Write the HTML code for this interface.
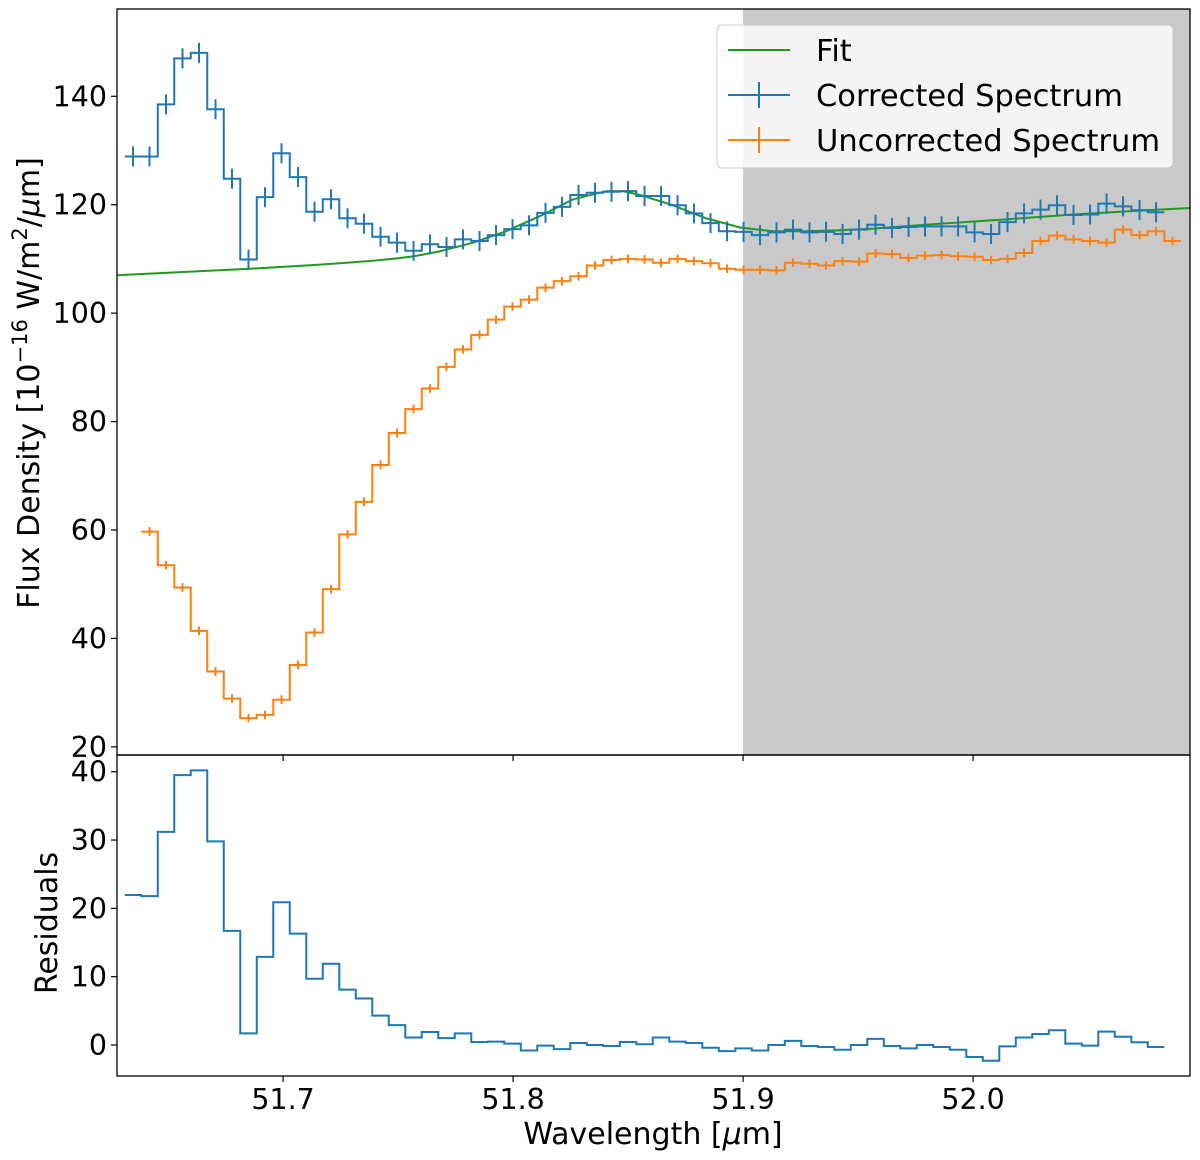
<!DOCTYPE html>
<html><head><meta charset="utf-8"><style>
html,body{margin:0;padding:0;background:#fff;}
svg{display:block;font-family:"DejaVu Sans","Liberation Sans",sans-serif;}
</style></head><body>
<svg id="chart" width="1200" height="1160" viewBox="0 0 1200 1160" xmlns="http://www.w3.org/2000/svg">
<rect x="0" y="0" width="1200" height="1160" fill="#fff"/>
<g id="topPanel"></g>
<g id="botPanel"></g>
<text transform="translate(39,383) rotate(-90)" text-anchor="middle" font-size="30">Flux Density [10<tspan dy="-12" font-size="21">−16</tspan><tspan dy="12"> W/m</tspan><tspan dy="-12" font-size="21">2</tspan><tspan dy="12">/</tspan><tspan font-style="italic">μ</tspan>m]</text>
<text transform="translate(57,923) rotate(-90)" text-anchor="middle" font-size="30">Residuals</text>
<text x="653" y="1144" text-anchor="middle" font-size="30">Wavelength [<tspan font-style="italic">μ</tspan>m]</text>
<g>
<rect x="717" y="25" width="456" height="143" rx="5" fill="#fff" fill-opacity="0.8" stroke="#cccccc" stroke-width="1"/>
<line x1="728" y1="50" x2="790" y2="50" stroke="#1f9a1f" stroke-width="2"/>
<text x="816" y="61" font-size="30.5">Fit</text>
<line x1="728" y1="95" x2="790" y2="95" stroke="#1f77b4" stroke-width="2"/>
<line x1="759" y1="82" x2="759" y2="108" stroke="#1f77b4" stroke-width="2"/>
<text x="816" y="106" font-size="30.5">Corrected Spectrum</text>
<line x1="728" y1="140" x2="790" y2="140" stroke="#ff7f0e" stroke-width="2"/>
<line x1="759" y1="127" x2="759" y2="153" stroke="#ff7f0e" stroke-width="2"/>
<text x="816" y="151" font-size="30.5">Uncorrected Spectrum</text>
</g>
</svg>
<script>
// ---- data ----
const wlStart = 51.63476;
const wlStep = 0.0071739;
const correctedFlux = [128.9,128.9,138.5,147.0,148.0,137.6,124.8,109.9,121.4,129.5,125.1,118.7,121.0,117.5,116.5,114.1,113.0,111.5,112.7,112.2,113.6,113.3,114.4,115.5,116.2,118.5,119.6,121.8,122.2,122.4,122.5,121.6,121.6,119.9,118.4,116.6,115.1,115.0,114.4,114.9,115.4,114.9,115.0,114.6,115.4,116.3,115.7,115.9,116.0,116.0,116.0,114.9,114.6,116.8,118.4,119.1,119.9,118.1,118.2,120.2,119.7,119.0,118.6];
const uncorrectedStart = 1;
const uncorrectedFlux = [59.7,53.5,49.4,41.4,33.9,28.9,25.3,25.9,28.7,35.1,41.1,49.1,59.2,65.2,72.0,77.9,82.3,86.1,90.1,93.3,96.0,98.8,101.2,102.5,104.7,105.9,106.8,108.8,109.8,110.0,109.9,109.3,110.0,109.6,109.2,108.2,108.0,108.0,107.9,109.3,109.1,108.8,109.6,109.5,111.0,110.9,110.2,110.6,110.7,110.5,110.4,109.8,110.0,111.1,113.3,114.3,113.6,113.3,113.0,115.4,114.4,115.1,113.3];
const residuals = [21.96,21.8,31.2,39.5,40.2,29.8,16.7,1.7,12.9,20.9,16.3,9.7,11.9,8.1,6.8,4.3,2.9,1.1,1.9,1.0,1.7,0.44,0.5,0.2,-0.8,-0.1,-0.6,0.3,0,-0.15,0.44,0.1,1.1,0.5,0.3,-0.4,-0.9,-0.5,-0.8,0,0.6,-0.15,-0.3,-0.7,0,0.9,-0.15,-0.5,0,-0.3,-0.7,-1.75,-2.3,-0.2,1.1,1.6,2.15,0.2,-0.1,1.95,1.2,0.4,-0.3];
const fitWl = [51.6278,51.6565,51.6856,51.7100,51.7248,51.7400,51.7495,51.7569,51.7682,51.7826,51.7969,51.8117,51.8261,51.8404,51.8478,51.8552,51.8695,51.8839,51.8987,51.9130,51.9274,51.9422,51.9565,51.9857,52.0143,52.0435,52.0726,52.0943];
const fitFlux = [107.0,107.6,108.2,108.8,109.2,109.7,110.1,110.5,111.4,113.0,115.1,117.9,121.0,122.5,122.5,121.8,119.9,117.5,115.8,115.1,115.1,115.3,115.6,116.5,117.3,118.2,118.9,119.4];
const correctedErr = 1.85;
const uncorrectedErr = 0.8;
const shadeStart = 51.9;
const xTicks = [51.7,51.8,51.9,52.0];
const xTickLabels = ["51.7","51.8","51.9","52.0"];
const yTicksTop = [20,40,60,80,100,120,140];
const yTicksBot = [0,10,20,30,40];
const wavelengths = [];
for (let i = 0; i < correctedFlux.length + 1; i++) wavelengths.push(wlStart + wlStep * i);

// ---- axes ----
const NS = "http://www.w3.org/2000/svg";
const L = 117, R = 1190;
const xMin = 51.6278, xMax = 52.0943;
const X = v => L + (v - xMin) / (xMax - xMin) * (R - L);
const T0 = 9, T1 = 755, topMin = 18.5, topMax = 156.1;
const Yt = v => T1 - (v - topMin) / (topMax - topMin) * (T1 - T0);
const B0 = 755, B1 = 1076, botMin = -4.54, botMax = 42.45;
const Yb = v => B1 - (v - botMin) / (botMax - botMin) * (B1 - B0);
const hw = (X(wlStart + wlStep) - X(wlStart)) / 2;

function mk(tag, attrs, parent) {
  const e = document.createElementNS(NS, tag);
  for (const k in attrs) e.setAttribute(k, attrs[k]);
  parent.appendChild(e);
  return e;
}
const topG = document.getElementById('topPanel');
const botG = document.getElementById('botPanel');

const sh = mk('rect', {x: X(shadeStart), y: T0, width: R - X(shadeStart), height: T1 - T0, fill: '#c9c9c9'}, topG);



function stepPath(vals, startIdx, Y) {
  let d = '';
  vals.forEach((v, j) => {
    const cx = X(wavelengths[startIdx + j]);
    const y = Y(v);
    d += (j === 0 ? 'M' : 'L') + (cx - hw).toFixed(2) + ',' + y.toFixed(2) + 'L' + (cx + hw).toFixed(2) + ',' + y.toFixed(2);
  });
  return d;
}

let fd = '';
fitWl.forEach((w, i) => { fd += (i ? 'L' : 'M') + X(w).toFixed(2) + ',' + Yt(fitFlux[i]).toFixed(2); });
const fitLine = mk('path', {d: fd, fill: 'none', stroke: '#1f9a1f', 'stroke-width': 2, 'stroke-linejoin': 'round'}, topG);



const ou = mk('path', {d: stepPath(uncorrectedFlux, uncorrectedStart, Yt), fill: 'none', stroke: '#ff7f0e', 'stroke-width': 2}, topG);


uncorrectedFlux.forEach((v, j) => {
  const cx = X(wavelengths[uncorrectedStart + j]);
  const e = mk('line', {x1: cx, x2: cx, y1: Yt(v + uncorrectedErr), y2: Yt(v - uncorrectedErr), stroke: '#ff7f0e', 'stroke-width': 2}, topG);
  
  
});

const cu = mk('path', {d: stepPath(correctedFlux, 0, Yt), fill: 'none', stroke: '#1f77b4', 'stroke-width': 2}, topG);


correctedFlux.forEach((v, j) => {
  const cx = X(wavelengths[j]);
  const e = mk('line', {x1: cx, x2: cx, y1: Yt(v + correctedErr), y2: Yt(v - correctedErr), stroke: '#1f77b4', 'stroke-width': 2}, topG);
  
  
});

const rl = mk('path', {d: stepPath(residuals, 0, Yb), fill: 'none', stroke: '#1f77b4', 'stroke-width': 2}, botG);



const f1 = mk('rect', {x: L, y: T0, width: R - L, height: T1 - T0, fill: 'none', stroke: '#000', 'stroke-width': 1.3}, topG);


const f2 = mk('rect', {x: L, y: B0, width: R - L, height: B1 - B0, fill: 'none', stroke: '#000', 'stroke-width': 1.3}, botG);



yTicksTop.forEach(v => {
  const y = Yt(v);
  mk('line', {x1: L - 6, x2: L, y1: y, y2: y, stroke: '#000', 'stroke-width': 1.2}, topG);
  const t = mk('text', {x: L - 10, y: y + 10, 'text-anchor': 'end', 'font-size': 28.5}, topG);
  t.textContent = String(v);
  
  
});
yTicksBot.forEach(v => {
  const y = Yb(v);
  mk('line', {x1: L - 6, x2: L, y1: y, y2: y, stroke: '#000', 'stroke-width': 1.2}, botG);
  const t = mk('text', {x: L - 10, y: y + 10, 'text-anchor': 'end', 'font-size': 28.5}, botG);
  t.textContent = String(v);
  
  
});
xTicks.forEach((v, i) => {
  const x = X(v);
  mk('line', {x1: x, x2: x, y1: B1, y2: B1 + 6, stroke: '#000', 'stroke-width': 1.2}, botG);
  mk('line', {x1: x, x2: x, y1: T1, y2: T1 + 6, stroke: '#000', 'stroke-width': 1.2}, topG);
  const t = mk('text', {x: x, y: B1 + 33, 'text-anchor': 'middle', 'font-size': 28.5}, botG);
  t.textContent = xTickLabels[i];
  
  
});
</script>
</body></html>
